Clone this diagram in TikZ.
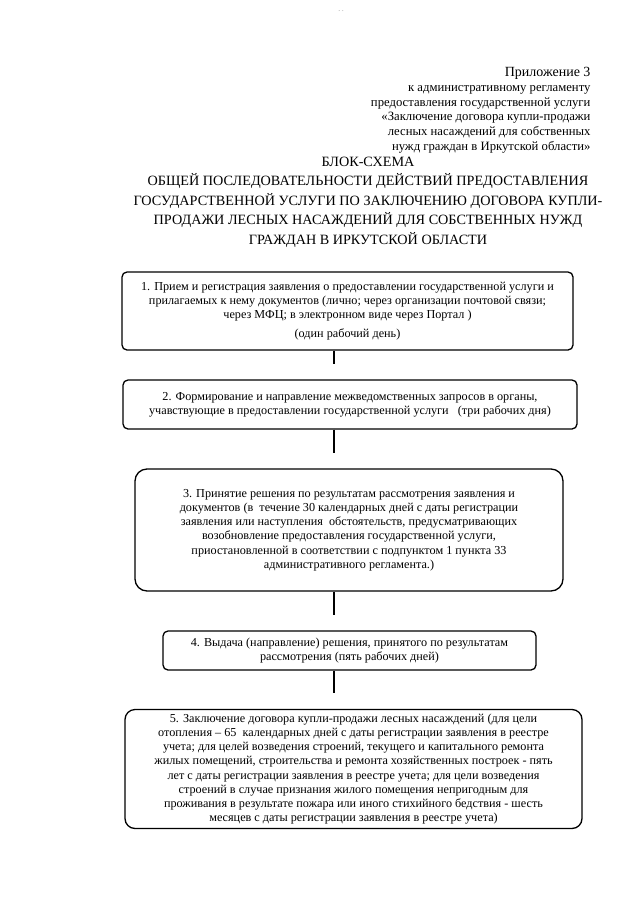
\documentclass[tikz,border=0pt]{standalone}
\usepackage{fontspec}
\setmainfont{Liberation Serif}
\usepackage{tikz}
\usetikzlibrary{positioning, calc}

\begin{document}
\begin{tikzpicture}[x=1pt, y=-1pt, font=\rmfamily,
    stepbox/.style={draw, line width=1.3pt, rounded corners=5pt, align=center,
                    inner sep=0pt, font=\rmfamily\fontsize{12.2}{14.2}\selectfont},
    link/.style={line width=2pt}]
  \useasboundingbox (0,0) rectangle (640,905);
  % page mark
  \node[font=\tiny, gray] (mark) at (341,12) {-\,\,-};
  % header
  \node[anchor=north east, align=right, font=\rmfamily\fontsize{12.7}{14.7}\selectfont]
    (appx) at (594,64)
    {{\fontsize{14}{16}\selectfont Приложение 3}\\
     к административному регламенту\\
     предоставления государственной услуги\\
     «Заключение договора купли-продажи\\
     лесных насаждений для собственных\\
     нужд граждан в Иркутской области»};
  \node[align=center, font=\rmfamily\fontsize{14.2}{19.5}\selectfont] (title) at (368,202)
    {БЛОК-СХЕМА\\
     ОБЩЕЙ ПОСЛЕДОВАТЕЛЬНОСТИ ДЕЙСТВИЙ ПРЕДОСТАВЛЕНИЯ\\
     ГОСУДАРСТВЕННОЙ УСЛУГИ ПО ЗАКЛЮЧЕНИЮ ДОГОВОРА КУПЛИ-\\
     ПРОДАЖИ ЛЕСНЫХ НАСАЖДЕНИЙ ДЛЯ СОБСТВЕННЫХ НУЖД\\
     ГРАЖДАН В ИРКУТСКОЙ ОБЛАСТИ};
  % steps
  \node[stepbox, minimum width=451pt, minimum height=78pt] (s1) at (347.5,311)
    {1. Прием и регистрация заявления о предоставлении государственной услуги и\\
     прилагаемых к нему документов (лично; через организации почтовой связи;\\
     через МФЦ; в электронном виде через Портал )\\[5pt]
     (один рабочий день)};
  \node[stepbox, minimum width=454pt, minimum height=49pt] (s2) at (350,404.5)
    {2. Формирование и направление межведомственных запросов в органы,\\
     учавствующие в предоставлении государственной услуги \ \ (три рабочих дня)};
  \node[stepbox, rounded corners=12pt, minimum width=428pt, minimum height=122pt]
    (s3) at (349,530)
    {3. Принятие решения по результатам рассмотрения заявления и\\
     документов (в \ течение 30 календарных дней с даты регистрации\\
     заявления или наступления \ обстоятельств, предусматривающих\\
     возобновление предоставления государственной услуги,\\
     приостановленной в соответствии с подпунктом 1 пункта 33\\
     административного регламента.)};
  \node[stepbox, minimum width=373pt, minimum height=39pt] (s4) at (349.5,650.5)
    {4. Выдача (направление) решения, принятого по результатам\\
     рассмотрения (пять рабочих дней)};
  \node[stepbox, rounded corners=10pt, minimum width=457pt, minimum height=119pt]
    (s5) at (353.5,769)
    {5. Заключение договора купли-продажи лесных насаждений (для цели\\
     отопления -- 65 \ календарных дней с даты регистрации заявления в реестре\\
     учета; для целей возведения строений, текущего и капитального ремонта\\
     жилых помещений, строительства и ремонта хозяйственных построек - пять\\
     лет с даты регистрации заявления в реестре учета; для цели возведения\\
     строений в случае признания жилого помещения непригодным для\\
     проживания в результате пожара или иного стихийного бедствия - шесть\\
     месяцев с даты регистрации заявления в реестре учета)};
  % connectors (stop short of the next box)
  \coordinate (e1) at (334,364);
  \coordinate (e2) at (334,453);
  \coordinate (e3) at (334,615);
  \coordinate (e4) at (334,693);
  \foreach \a/\b in {s1/e1, s2/e2, s3/e3, s4/e4}
    \draw[link] (\a.south -| \b) -- (\b);
\end{tikzpicture}
\end{document}
